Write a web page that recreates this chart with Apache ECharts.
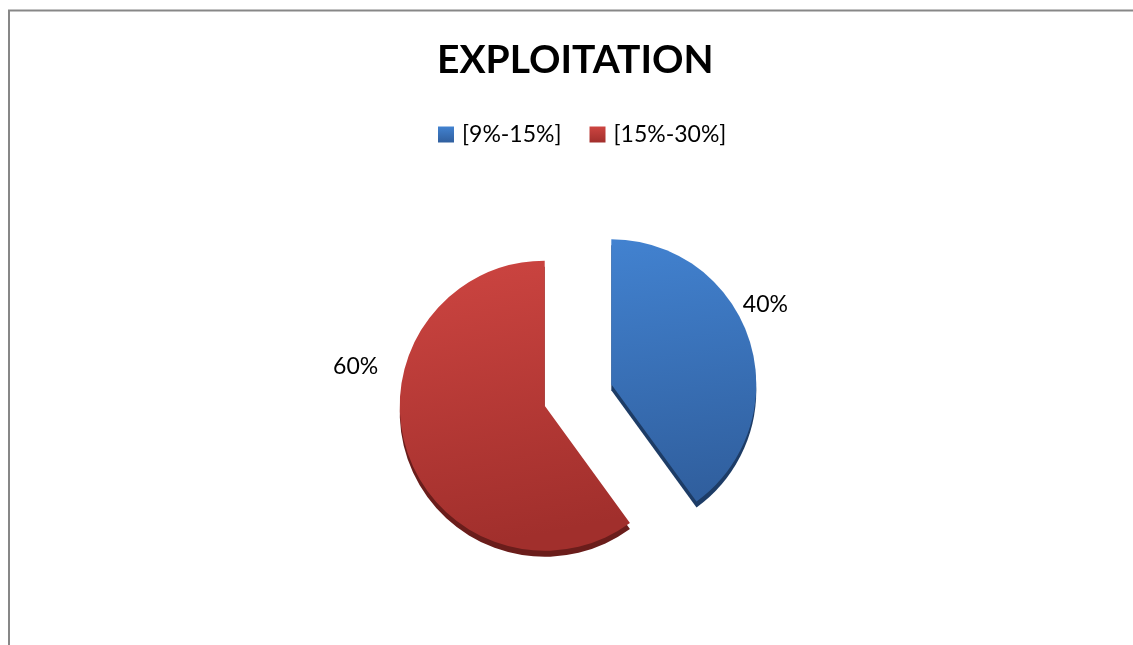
<!DOCTYPE html>
<html>
<head>
<meta charset="utf-8">
<title>EXPLOITATION</title>
<script src="https://cdn.jsdelivr.net/npm/echarts@6/dist/echarts.min.js"></script>
<style>
  html, body { margin: 0; padding: 0; background: #ffffff; }
  #chart { width: 1133px; height: 645px; }
</style>
</head>
<body>
<div id="chart"></div>
<script>
// Share of each range (percent)
const categories = ['[9%-15%]', '[15%-30%]'];
const shares = [40, 60];

// Face colours (top -> bottom) and the darker rim colours for the 3D edge
const faceTop = ['#4282d0', '#cd4541'];
const faceBottom = ['#305f9e', '#a12f2c'];
const rimColors = ['#1d3c66', '#6a1d1b'];

const FONT = 'Lato, "Open Sans", sans-serif';
const RADIUS = 145;
const CENTER = [578, 395];
const EXPLODE = 35;

function grad(i) {
  return new echarts.graphic.LinearGradient(0, 0, 0.25, 1, [
    { offset: 0, color: faceTop[i] },
    { offset: 1, color: faceBottom[i] }
  ]);
}

// Nudges that put the percentage labels where they sit beside each slice
const labelNudge = [
  { dx: -19, dy: -32 },
  { dx: -16, dy: -87 }
];

const frontData = categories.map((name, i) => ({
  name: name,
  value: shares[i],
  selected: true,
  itemStyle: { color: grad(i) }
}));

const rimData = categories.map((name, i) => ({
  name: name,
  value: shares[i],
  selected: true,
  itemStyle: { color: rimColors[i] }
}));

const chart = echarts.init(document.getElementById('chart'), null, { renderer: 'canvas' });

chart.setOption({
  backgroundColor: '#ffffff',
  animation: false,
  title: {
    text: 'EXPLOITATION',
    left: 432,
    top: 36,
    textStyle: {
      fontFamily: FONT,
      fontWeight: 'bold',
      fontSize: 39,
      color: '#000000'
    }
  },
  legend: {
    top: 118,
    left: 433,
    icon: 'rect',
    itemWidth: 16,
    itemHeight: 16,
    itemGap: 28,
    selectedMode: false,
    textStyle: { fontFamily: FONT, fontSize: 23, color: '#000000', padding: [0, 0, 0, 3] },
    data: categories.map((name, i) => ({
      name: name,
      itemStyle: { color: new echarts.graphic.LinearGradient(0, 0, 0, 1, [
        { offset: 0, color: faceTop[i] },
        { offset: 1, color: faceBottom[i] }
      ]) }
    }))
  },
  graphic: [
    {
      type: 'rect',
      silent: true,
      z: -10,
      shape: { x: 9, y: 10.5, width: 1200, height: 1000 },
      style: { fill: null, stroke: '#878787', lineWidth: 2 }
    }
  ],
  series: [
    {
      // darker copy underneath, shifted down, reads as the slice thickness
      name: 'rim',
      type: 'pie',
      silent: true,
      z: 1,
      center: [CENTER[0], CENTER[1] + 6],
      radius: [0, RADIUS],
      startAngle: 90,
      clockwise: true,
      selectedMode: 'multiple',
      selectedOffset: EXPLODE,
      label: { show: false },
      labelLine: { show: false },
      emphasis: { disabled: true },
      data: rimData
    },
    {
      name: 'EXPLOITATION',
      type: 'pie',
      silent: true,
      z: 2,
      center: CENTER,
      radius: [0, RADIUS],
      startAngle: 90,
      clockwise: true,
      selectedMode: 'multiple',
      selectedOffset: EXPLODE,
      avoidLabelOverlap: false,
      label: {
        show: true,
        position: 'outside',
        formatter: '{d}%',
        fontFamily: FONT,
        fontSize: 23,
        color: '#000000'
      },
      labelLine: { show: false, length: 8, length2: 0 },
      labelLayout: function (p) {
        return labelNudge[p.dataIndex];
      },
      emphasis: { disabled: true },
      data: frontData
    }
  ]
});
</script>
</body>
</html>
